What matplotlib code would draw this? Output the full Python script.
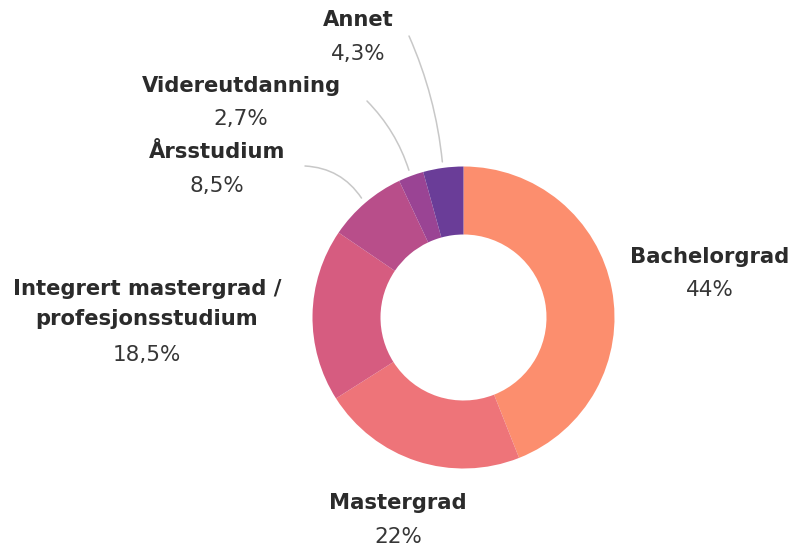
import matplotlib.pyplot as plt
import numpy as np

labels = ["Bachelorgrad", "Mastergrad", "Integrert mastergrad /\nprofesjonsstudium",
          "Årsstudium", "Videreutdanning", "Annet"]
values = [44, 22, 18.5, 8.5, 2.7, 4.3]
pct_text = ["44%", "22%", "18,5%", "8,5%", "2,7%", "4,3%"]
colors = ["#fc8e6e", "#ee7479", "#d65c80", "#b84e8a", "#9a4494", "#6a3d98"]

W, H = 796, 550
CX, CY = 463.5, H - 317.5
R, R_IN = 151, 83
TXT = "#2b2b2b"

fig = plt.figure(figsize=(W / 100, H / 100), dpi=100)
ax = fig.add_axes([0, 0, 1, 1])

wedges, _ = ax.pie(values, colors=colors, startangle=90, counterclock=False,
                   center=(CX, CY), radius=R, frame=True,
                   wedgeprops=dict(width=R - R_IN, linewidth=0))
ax.set_xlim(0, W)
ax.set_ylim(0, H)
ax.set_aspect("equal")
ax.axis("off")

# label anchors (pixel coords, y from top): x centre, name y, pct y
pos = {
    0: (710, 257, 290),
    1: (398, 503, 537),
    2: (147, 304, 355),
    3: (217, 152, 186),
    4: (241, 86, 119),
    5: (358, 20, 54),
}
for i, (x, yn, yp) in pos.items():
    ax.text(x, H - yn, labels[i], ha="center", va="center", fontsize=15.2,
            fontweight="bold", color=TXT, linespacing=1.65)
    ax.text(x, H - yp, pct_text[i], ha="center", va="center", fontsize=15.5,
            color="#363636")

# leader lines for the small slices
ends = {5: (409, 36, -0.08), 4: (367, 101, -0.12), 3: (305, 166, -0.25)}
for i, (ex, ey, rad) in ends.items():
    w = wedges[i]
    mid = np.deg2rad((w.theta1 + w.theta2) / 2)
    sx = CX + 1.04 * R * np.cos(mid)
    sy = CY + 1.04 * R * np.sin(mid)
    ax.annotate("", xy=(sx, sy), xytext=(ex, H - ey),
                arrowprops=dict(arrowstyle="-", color="#c8c8c8", lw=1.1,
                                connectionstyle=f"arc3,rad={rad}",
                                shrinkA=0, shrinkB=0))

fig.savefig("out.png", dpi=100, facecolor="white")
